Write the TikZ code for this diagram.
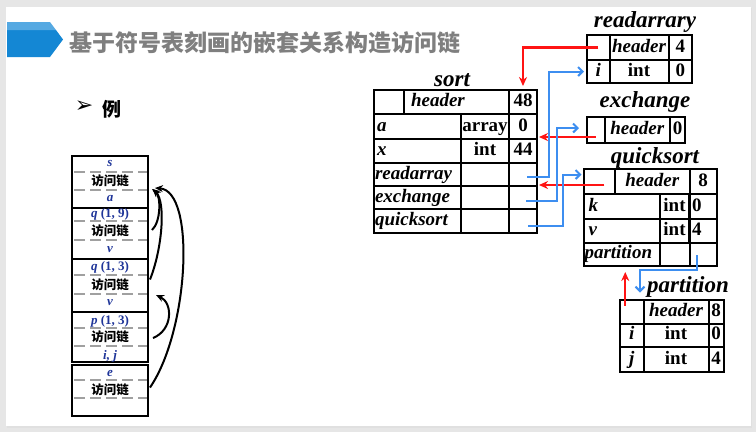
\documentclass[tikz,border=0pt]{standalone}
\usepackage{fontspec}
\setmainfont{Liberation Serif}
\newfontfamily\cjk{Noto Sans CJK SC}
\newfontfamily\dejavu{DejaVu Sans}
\usetikzlibrary{arrows.meta,calc}
\definecolor{slidebg}{HTML}{E6E6E6}
\definecolor{bannerA}{HTML}{1487D4}
\definecolor{bannerB}{HTML}{55A9E2}
\definecolor{titlegray}{HTML}{7F7F7F}
\definecolor{lblue}{HTML}{3D8EF0}
\definecolor{lred}{HTML}{FF1414}
\definecolor{navy}{HTML}{1F3599}
\definecolor{dashgray}{HTML}{A0A0A0}
\tikzset{
  wh/.style 2 args={minimum width=#1pt, minimum height=#2pt},
  cell/.style={draw, line width=2pt, inner sep=0pt, font=\fontsize{19}{19}\selectfont\bfseries, text height=13pt, text depth=4pt},
  lcell/.style={cell, align=left, text width=#1, inner xsep=3pt},
  tabtitle/.style={inner sep=0pt, font=\fontsize{23}{23}\selectfont\bfseries\itshape},
  frame/.style={draw, line width=2pt, minimum width=76pt, inner sep=0pt},
  slbl/.style={inner sep=0pt, text=navy, font=\fontsize{13}{13}\selectfont\bfseries},
  linklbl/.style={inner sep=0pt, font=\cjk\fontsize{12.5}{12.5}\selectfont\bfseries},
  dashln/.style={dashgray, line width=2pt, dash pattern=on 11pt off 5pt},
  redarr/.style={lred, line width=2.2pt, -{Stealth[length=9pt,width=8pt]}},
  bluearr/.style={lblue, line width=2pt, -{Straight Barb[length=4.5pt,width=9pt]}},
  blkarr/.style={black, line width=2pt, -{Stealth[length=8pt,width=7pt]}}
}
\begin{document}
\begin{tikzpicture}[x=1pt,y=-1pt]
\useasboundingbox (0,0) rectangle (756,432);
% slide
\fill[slidebg] (0,0) rectangle (756,432);
\fill[black!12] (7,8) rectangle (752,427.5);
\fill[white] (6,7) rectangle (751,426);
% banner
\fill[bannerA] (7,30) -- (56,30) -- (63,39.5) -- (50,57) -- (7,57) -- cycle;
\fill[bannerB] (7,22) -- (50,22) -- (56,30) -- (7,30) -- cycle;
\node[anchor=west, inner sep=0pt, text=titlegray, font=\cjk\fontsize{23}{23}\selectfont\bfseries] (title) at (69,43) {基于符号表刻画的嵌套关系构造访问链};
\node[inner sep=0pt, font=\dejavu\fontsize{22}{22}\selectfont] (bullet) at (84,107) {➢};
\node[inner sep=0pt, font=\cjk\fontsize{19}{19}\selectfont\bfseries] (li) at (112,109) {例};

% ===== left stack =====
\node[frame, minimum height=52pt] (f1) at (110,182) {};
\node[frame, minimum height=51pt] (f2) at (110,233.5) {};
\node[frame, minimum height=53pt] (f3) at (110,285.5) {};
\node[frame, minimum height=50pt] (f4) at (110,337) {};
\node[frame, minimum height=51pt] (f5) at (110,390.5) {};
\draw[dashln] (74,172) -- (147,172);
\draw[dashln] (74,190) -- (147,190);
\draw[dashln] (74,221) -- (147,221);
\draw[dashln] (74,240) -- (147,240);
\draw[dashln] (74,275) -- (147,275);
\draw[dashln] (74,294) -- (147,294);
\draw[dashln] (74,328) -- (147,328);
\draw[dashln] (74,346) -- (147,346);
\draw[dashln] (74,380) -- (147,380);
\draw[dashln] (74,398) -- (147,398);
\node[slbl] (s1) at (110,163) {\itshape s};
\node[linklbl] (k1) at (110,181) {访问链};
\node[slbl] (v1) at (110,199) {\itshape a};
\node[slbl] (s2) at (110,214) {{\itshape q} (1, 9)};
\node[linklbl] (k2) at (110,231) {访问链};
\node[slbl] (v2) at (110,250) {\itshape v};
\node[slbl] (s3) at (110,267.5) {{\itshape q} (1, 3)};
\node[linklbl] (k3) at (110,285) {访问链};
\node[slbl] (v3) at (110,303) {\itshape v};
\node[slbl] (s4) at (110,321) {{\itshape p} (1, 3)};
\node[linklbl] (k4) at (110,337) {访问链};
\node[slbl] (v4) at (110,356) {\itshape i, j};
\node[slbl] (s5) at (110,373) {\itshape e};
\node[linklbl] (k5) at (110,389.5) {访问链};
% left arrows
\coordinate (t1) at ($(f1.east)+(3,7)$);
\coordinate (o2) at ($(f2.east)+(3,-3.5)$);
\coordinate (o3) at ($(f3.east)+(1,-6)$);
\coordinate (o4) at ($(f4.east)+(4,1)$);
\coordinate (t4) at ($(f3.east)+(7,9.5)$);
\coordinate (o5) at ($(f5.east)+(1,-3)$);
\draw[blkarr] (o2) .. controls ($(o2)+(9,-8)$) and ($(t1)+(9,7)$) .. (t1);
\draw[blkarr] (o3) .. controls ($(o3)+(12,-30)$) and ($(t1)+(14,14)$) .. ($(t1)+(1,0)$);
\draw[blkarr] (o5) .. controls ($(o5)+(39,-57)$) and ($(t1)+(44,2)$) .. ($(t1)+(3,-1)$);
\draw[blkarr] (o4) .. controls ($(o4)+(20,-8)$) and ($(t4)+(17,8)$) .. (t4);

% ===== sort =====
\node[tabtitle] (tsort) at (452,80) {sort};
\node[cell, wh={30}{24}] (sh0) at (389,102) {};
\node[lcell=91pt, wh={105}{24}, inner xsep=7pt] (sh1) at (456.5,102) {\itshape header};
\node[cell, wh={28}{24}] (sh2) at (523,102) {48};
\node[lcell=81pt, wh={87}{25}] (sa0) at (417.5,126.5) {\itshape a};
\node[cell, wh={48}{25}] (sa1) at (485,126.5) {array};
\node[cell, wh={28}{25}] (sa2) at (523,126.5) {0};
\node[lcell=81pt, wh={87}{24}] (sx0) at (417.5,151) {\itshape x};
\node[cell, wh={48}{24}] (sx1) at (485,151) {int};
\node[cell, wh={28}{24}] (sx2) at (523,151) {44};
\node[lcell=85pt, wh={87}{23}, inner xsep=1pt] (sra0) at (417.5,174.5) {\itshape readarray};
\node[cell, wh={48}{23}] (sra1) at (485,174.5) {};
\node[cell, wh={28}{23}] (sra2) at (523,174.5) {};
\node[lcell=85pt, wh={87}{23}, inner xsep=1pt] (sex0) at (417.5,197.5) {\itshape exchange};
\node[cell, wh={48}{23}] (sex1) at (485,197.5) {};
\node[cell, wh={28}{23}] (sex2) at (523,197.5) {};
\node[lcell=85pt, wh={87}{24}, inner xsep=1pt] (sq0) at (417.5,221) {\itshape quicksort};
\node[cell, wh={48}{24}] (sq1) at (485,221) {};
\node[cell, wh={28}{24}] (sq2) at (523,221) {};

% ===== readarrary =====
\node[tabtitle] (tread) at (645,22) {readarrary};
\node[cell, wh={22.5}{25}] (rh0) at (598.25,47.5) {};
\node[cell, wh={59}{25}] (rh1) at (639,47.5) {\itshape header};
\node[cell, wh={23.5}{25}] (rh2) at (680.25,47.5) {4};
\node[cell, wh={22.5}{23}] (ri0) at (598.25,71.5) {\itshape i};
\node[cell, wh={59}{23}] (ri1) at (639,71.5) {int};
\node[cell, wh={23.5}{23}] (ri2) at (680.25,71.5) {0};

% ===== exchange =====
\node[tabtitle] (texch) at (645,102) {exchange};
\node[cell, wh={17.5}{26}] (eh0) at (595.75,130) {};
\node[cell, wh={65.5}{26}] (eh1) at (637.25,130) {\itshape header};
\node[cell, wh={15}{26}] (eh2) at (677.5,130) {0};

% ===== quicksort =====
\node[tabtitle] (tquick) at (655,158) {quicksort};
\node[cell, wh={31.5}{25}] (qh0) at (599.25,181.5) {};
\node[cell, wh={74.5}{25}] (qh1) at (652.25,181.5) {\itshape header};
\node[cell, wh={27}{25}] (qh2) at (703,181.5) {8};
\node[lcell=66pt, wh={76}{25}, inner xsep=5pt] (qk0) at (621.5,206.5) {\itshape k};
\node[cell, wh={30}{25}] (qk1) at (674.5,206.5) {int};
\node[lcell=22pt, wh={27}{25}, inner xsep=3pt] (qk2) at (703,206.5) {0};
\node[lcell=66pt, wh={76}{23.5}, inner xsep=5pt] (qv0) at (621.5,230.75) {\itshape v};
\node[cell, wh={30}{23.5}] (qv1) at (674.5,230.75) {int};
\node[lcell=22pt, wh={27}{23.5}, inner xsep=3pt] (qv2) at (703,230.75) {4};
\node[lcell=74pt, wh={76}{23.5}, inner xsep=1pt] (qp0) at (621.5,254.25) {\itshape partition};
\node[cell, wh={30}{23.5}] (qp1) at (674.5,254.25) {};
\node[cell, wh={27}{23.5}] (qp2) at (703,254.25) {};

% ===== partition =====
\node[tabtitle] (tpart) at (688,287) {partition};
\node[cell, wh={23.5}{24}] (ph0) at (631.75,311.5) {};
\node[cell, wh={65}{24}] (ph1) at (676,311.5) {\itshape header};
\node[cell, wh={15}{24}] (ph2) at (716,311.5) {8};
\node[cell, wh={23.5}{23.5}] (pi0) at (631.75,335.25) {\itshape i};
\node[cell, wh={65}{23.5}] (pi1) at (676,335.25) {int};
\node[cell, wh={15}{23.5}] (pi2) at (716,335.25) {0};
\node[cell, wh={23.5}{25}] (pj0) at (631.75,359.5) {\itshape j};
\node[cell, wh={65}{25}] (pj1) at (676,359.5) {int};
\node[cell, wh={15}{25}] (pj2) at (716,359.5) {4};

% ===== red access links =====
\draw[redarr, shorten >=3pt] (rh0.center) -| (sh2.north);
\coordinate (r2s) at ($(eh0.center)+(0,7)$);
\draw[redarr, shorten >=1pt] (r2s) -- (r2s -| sa2.east);
\coordinate (r3s) at ($(qh0.center)+(5,3.5)$);
\draw[redarr, shorten >=1pt] (r3s) -- (r3s -| sra2.east);
\coordinate (r4s) at ($(ph0.center)+(-6.5,-6)$);
\draw[redarr, shorten >=5pt] (r4s) -- (r4s |- qp0.south);

% ===== blue links =====
\coordinate (b1s) at ($(sra2.center)+(4,2.5)$);
\draw[bluearr, shorten >=2pt] (b1s) -- ++(22,0) |- (ri0.west);
\coordinate (b2s) at ($(sex2.center)+(3,3.5)$);
\draw[bluearr, shorten >=7pt] (b2s) -- ++(31,0) |- ([yshift=2pt]eh0.west);
\coordinate (b3s) at ($(sq2.center)+(5,5)$);
\draw[bluearr, shorten >=1pt] (b3s) -- ++(35,0) |- ([yshift=7pt]qh0.west);
\coordinate (b4s) at ($(qp2.center)+(-6,1)$);
\draw[bluearr] (b4s) -- ++(0,15) -| ([xshift=-4.5pt,yshift=6pt]ph0.north east);
\end{tikzpicture}
\end{document}
